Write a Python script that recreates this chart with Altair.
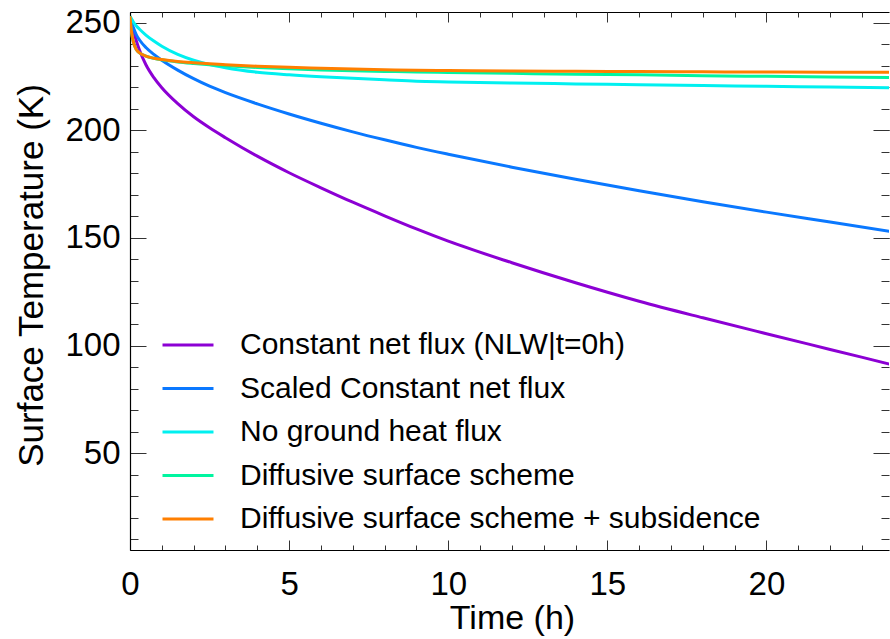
import altair as alt
import pandas as pd

# ---------------- data ----------------
times = [0, 0.03, 0.05, 0.1, 0.2, 0.3, 0.5, 0.75, 1, 1.5, 2, 2.5, 3, 4, 5, 6, 7,
         8, 9, 10, 12, 14, 16, 18, 20, 22, 24]

const_net = [253, 251.0, 249.7, 246.8, 241.5, 237.2, 230.5, 224.5, 219.8, 212.4, 206.3,
             201.2, 196.6, 188.0, 180.3, 173.3, 166.6, 160.3, 154.2, 148.5, 138.5,
             129.2, 120.6, 112.9, 105.5, 98.2, 90.9]
scaled_net = [253, 251.3, 250.3, 248.0, 244.4, 242.0, 238.5, 235.3, 232.6, 228.0, 224.0,
              220.5, 217.5, 212.3, 207.6, 203.3, 199.3, 195.6, 192.1, 188.9, 182.9,
              177.3, 171.9, 166.8, 162.0, 157.4, 152.8]
no_ground = [253, 252.3, 251.8, 250.5, 248.5, 247, 244.3, 241.5, 239.1, 235.3, 232.6,
             230.6, 229.1, 227, 225.8, 224.9, 224.2, 223.5, 222.8, 222.5, 222,
             221.6, 221.2, 220.8, 220.5, 220.1, 219.8]
diffusive = [253, 248, 245.5, 241.5, 237.5, 236, 234.5, 233.5, 232.8, 231.8, 231.1,
             230.5, 230, 229.2, 228.6, 228.1, 227.7, 227.4, 227.1, 226.9, 226.5,
             226.1, 225.8, 225.4, 225.1, 224.8, 224.5]
diffusive_sub = [253, 248, 245.5, 241.5, 237.5, 236, 234.5, 233.5, 232.9, 232, 231.4,
                 230.9, 230.5, 229.8, 229.3, 228.9, 228.5, 228.2, 227.9, 227.8, 227.6,
                 227.45, 227.3, 227.2, 227.1, 227.05, 227.0]

series_names = [
    "Constant net flux (NLW|t=0h)",
    "Scaled Constant net flux",
    "No ground heat flux",
    "Diffusive surface scheme",
    "Diffusive surface scheme + subsidence",
]
series_values = [const_net, scaled_net, no_ground, diffusive, diffusive_sub]
series_colors = ["#8C00D4", "#0A78FF", "#00F0F0", "#00F5A0", "#FF7F00"]

x_major = [0, 5, 10, 15, 20]
x_minor = list(range(0, 24))
y_major = [50, 100, 150, 200, 250]
y_minor = list(range(10, 260, 10))

rows = []
for name, vals in zip(series_names, series_values):
    for t, v in zip(times, vals):
        rows.append({"series": name, "t": t, "T": v})
df = pd.DataFrame(rows)

# ---------------- layout ----------------
W, H = 759, 538
FONT = "Liberation Sans"
xs = alt.Scale(domain=[0, 23.85], nice=False, zero=False)
ys = alt.Scale(domain=[5, 255], nice=False, zero=False)
TICK = "#333333"

base = alt.Chart(df)

lines = base.mark_line(strokeWidth=3, clip=True, interpolate="monotone").encode(
    x=alt.X("t:Q", scale=xs, axis=alt.Axis(
        orient="bottom", values=x_major, ticks=False, tickSize=0, grid=False,
        domain=True, domainColor="#000", domainWidth=1.2,
        labelFont=FONT, labelFontSize=33, labelColor="#000", labelPadding=18,
        labelFlush=False, labelOverlap=False,
        title="Time (h)", titleFont=FONT, titleFontSize=34, titleFontWeight="normal",
        titleColor="#000", titleX=382, titleY=78, titleBaseline="alphabetic",
        titleAlign="center")),
    y=alt.Y("T:Q", scale=ys, axis=alt.Axis(
        orient="left", values=y_major, ticks=False, tickSize=0, grid=False,
        domain=True, domainColor="#000", domainWidth=1.2,
        labelFont=FONT, labelFontSize=33, labelColor="#000", labelPadding=10,
        labelFlush=False, labelOverlap=False,
        title="Surface Temperature (K)", titleFont=FONT, titleFontSize=35,
        titleFontWeight="normal", titleColor="#000", titleAngle=270,
        titleX=-88, titleY=263, titleBaseline="alphabetic", titleAlign="center")),
    color=alt.Color("series:N", sort=series_names,
                    scale=alt.Scale(domain=series_names, range=series_colors),
                    legend=alt.Legend(
                        title=None, orient="none", legendX=31, legendY=313,
                        symbolType="stroke", symbolSize=2600, symbolStrokeWidth=3,
                        labelFont=FONT, labelFontSize=30, labelColor="#000",
                        labelOffset=25, clipHeight=40, rowPadding=3.5, padding=0,
                        labelLimit=1000)),
)


def tick_layer(xorient, xoff, xvals, xsize, yorient, yoff, yvals, ysize, dom=False):
    return base.mark_point(opacity=0).encode(
        x=alt.X("t:Q", scale=xs, title=None, axis=alt.Axis(
            orient=xorient, offset=xoff, values=xvals, tickSize=xsize,
            tickColor=TICK, tickWidth=1, labels=False, grid=False,
            domain=dom, domainColor="#000", domainWidth=1.2)),
        y=alt.Y("T:Q", scale=ys, title=None, axis=alt.Axis(
            orient=yorient, offset=yoff, values=yvals, tickSize=ysize,
            tickColor=TICK, tickWidth=1, labels=False, grid=False, domain=False)),
    )


# inward ticks on bottom/left edges
t1 = tick_layer("top", -H, x_major, 10, "right", -W, y_major, 16)
t2 = tick_layer("top", -H, x_minor, 5, "right", -W, y_minor, 8)
# inward ticks on top/right edges (top edge has a frame line)
t3 = tick_layer("bottom", -H, x_major, 10, "left", -W, y_major, 16, dom=True)
t4 = tick_layer("bottom", -H, x_minor, 5, "left", -W, y_minor, 8)

chart = (
    alt.layer(t1, t2, t3, t4, lines)
    .resolve_axis(x="independent", y="independent")
    .properties(
        width=W, height=H,
        autosize=alt.AutoSizeParams(type="none"),
        padding={"left": 130, "top": 12, "right": 1, "bottom": 89},
        background="white",
    )
    .configure_view(strokeWidth=0)
)

chart.save("out.html", embed_options={"renderer": "svg", "actions": False})
